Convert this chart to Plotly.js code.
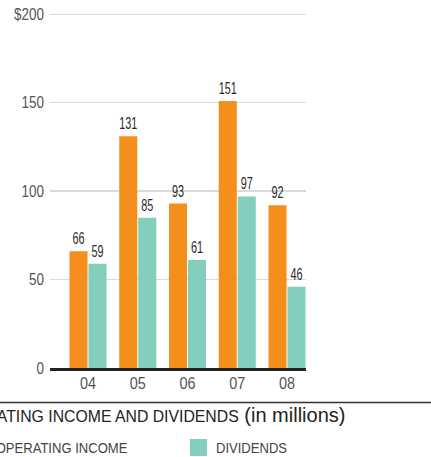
<!DOCTYPE html>
<html>
<head>
<meta charset="utf-8">
<script src="https://cdn.plot.ly/plotly-3.0.1.min.js"></script>
<style>html,body{margin:0;padding:0;background:#fff;}#chart{width:431px;height:457px;}</style>
</head>
<body>
<div id="chart"></div>
<script>
var years = ["04", "05", "06", "07", "08"];
var operatingIncome = [66, 131, 93, 151, 92];
var dividends = [59, 85, 61, 97, 46];
var seriesNames = ["OPERATING INCOME", "DIVIDENDS"];
var yTickVals = [0, 50, 100, 150, 200];
var yTickText = ["0", "50", "100", "150", "$200"];
var chartTitle = "OPERATING INCOME AND DIVIDENDS";
var chartSubtitle = "(in millions)";

var ORANGE = "#F48F1E";
var TEAL = "#84CEBD";
var FONT = "'Liberation Sans', Arial, sans-serif";
function nf(size, color) { return {family: FONT, size: size, color: color}; }

var traces = [
  {type: "bar", name: seriesNames[0], x: years, y: operatingIncome, marker: {color: ORANGE},
   text: operatingIncome.map(String), textposition: "outside", cliponaxis: false, constraintext: "none",
   textfont: nf(17, "#2a2a2a"), hoverinfo: "none"},
  {type: "bar", name: seriesNames[1], x: years, y: dividends, marker: {color: TEAL},
   text: dividends.map(String), textposition: "outside", cliponaxis: false, constraintext: "none",
   textfont: nf(17, "#2a2a2a"), hoverinfo: "none"}
];

var H = 359; // plot height in px (457 - 9 - 89)
function py(px) { return (368 - px) / H; }
function pxx(px) { return (px - 50) / 256; }

var layout = {
  width: 431, height: 457,
  margin: {l: 50, r: 125, t: 9, b: 89, pad: 0},
  paper_bgcolor: "#fff", plot_bgcolor: "#fff",
  showlegend: false,
  barmode: "group", bargap: 0.236, bargroupgap: 0.05,
  font: nf(16, "#555"),
  xaxis: {type: "category", range: [-0.764, 4.382], showgrid: false, zeroline: false,
          showline: true, linecolor: "#222", linewidth: 3, ticks: "", ticklabelstandoff: -2,
          tickfont: nf(17, "#555")},
  yaxis: {range: [0, 203], tickvals: yTickVals, ticktext: yTickText, showgrid: true,
          gridcolor: "#dadada", gridwidth: 1.5, zeroline: false, showline: false, ticks: "",
          ticklabelstandoff: 5, tickfont: nf(16, "#555")},
  shapes: [
    {type: "line", xref: "paper", yref: "paper", x0: pxx(-5), x1: pxx(440), y0: py(402.5), y1: py(402.5),
     line: {color: "#333", width: 1.5}},
    {type: "rect", xref: "paper", yref: "paper", x0: pxx(-30), x1: pxx(-13), y0: py(439), y1: py(456),
     fillcolor: ORANGE, line: {width: 0}},
    {type: "rect", xref: "paper", yref: "paper", x0: pxx(190), x1: pxx(207), y0: py(439), y1: py(456),
     fillcolor: TEAL, line: {width: 0}}
  ],
  annotations: [
    {xref: "paper", yref: "paper", x: pxx(347), y: py(415), xanchor: "right", yanchor: "middle",
     showarrow: false,
     text: '<span style="font-size:15.8px">' + chartTitle + '</span> <span style="font-size:20px">' + chartSubtitle + '</span>',
     font: nf(20, "#222")},
    {xref: "paper", yref: "paper", x: pxx(129), y: py(447), xanchor: "right", yanchor: "middle",
     showarrow: false, text: seriesNames[0], font: nf(15, "#444")},
    {xref: "paper", yref: "paper", x: pxx(214), y: py(447), xanchor: "left", yanchor: "middle",
     showarrow: false, text: seriesNames[1], font: nf(15, "#444")}
  ]
};

// emulate the condensed typeface of the original by narrowing glyphs horizontally
function squeeze(el, f) {
  var w = el.getComputedTextLength();
  if (!w) return 0;
  el.setAttribute("textLength", (w * f).toFixed(2));
  el.setAttribute("lengthAdjust", "spacingAndGlyphs");
  return w * (1 - f);
}
function condense(sel, f) {
  document.querySelectorAll(sel).forEach(function (t) { squeeze(t, f); });
}
// keep an annotation's anchored edge in place after narrowing (dir: +1 right-anchored, -1 left-anchored)
function condenseAnn(idx, f, dir) {
  var t = document.querySelector('g.annotation[data-index="' + idx + '"] text');
  if (!t) return;
  var d = squeeze(t, f);
  var x = parseFloat(t.getAttribute("x") || "0");
  t.setAttribute("x", (x + dir * d / 2).toFixed(2));
}

Plotly.newPlot("chart", traces, layout, {staticPlot: true, displayModeBar: false}).then(function () {
  condense(".xtick text", 0.85);
  condense(".ytick text", 0.84);
  condense(".bartext", 0.64);
  condenseAnn(1, 0.87, 1);
  condenseAnn(2, 0.87, -1);
});
</script>
</body>
</html>
